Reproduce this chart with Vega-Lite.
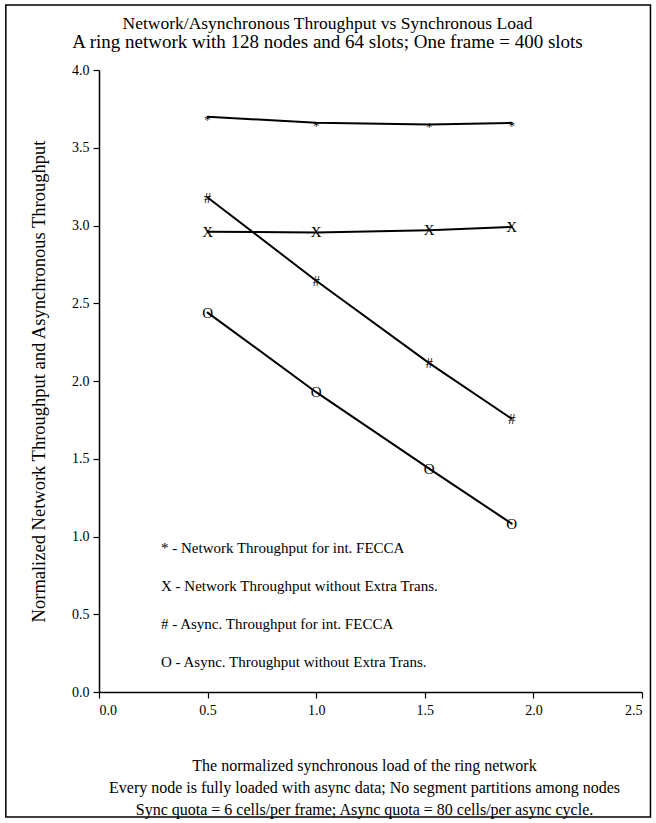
{
  "$schema": "https://vega.github.io/schema/vega-lite/v6.json",
  "width": 543,
  "height": 622,
  "autosize": {"type": "none"},
  "padding": {"left": 99, "top": 70, "right": 14, "bottom": 131},
  "background": "white",
  "config": {
    "view": {"stroke": null},
    "font": "Liberation Serif",
    "axis": {
      "labelFont": "Liberation Serif",
      "titleFont": "Liberation Serif",
      "labelColor": "black",
      "titleColor": "black",
      "domainColor": "black",
      "tickColor": "black",
      "labelFontSize": 14,
      "titleFontSize": 16,
      "titleFontWeight": "normal",
      "grid": false,
      "domainWidth": 1.5,
      "tickWidth": 1.2,
      "tickSize": 6
    }
  },
  "title": {
    "text": "Network/Asynchronous Throughput vs Synchronous Load",
    "subtitle": "A ring network with 128 nodes and 64 slots; One frame = 400 slots",
    "font": "Liberation Serif",
    "subtitleFont": "Liberation Serif",
    "fontSize": 17.5,
    "subtitleFontSize": 19,
    "fontWeight": "normal",
    "color": "black",
    "subtitleColor": "black",
    "anchor": "middle",
    "dx": -43,
    "offset": -48,
    "subtitlePadding": 1
  },
  "datasets": {
    "series": [
      {"load": 0.5, "value": 3.70, "series": "* - Network Throughput for int. FECCA", "sym": "*"},
      {"load": 1.0, "value": 3.66, "series": "* - Network Throughput for int. FECCA", "sym": "*"},
      {"load": 1.52, "value": 3.65, "series": "* - Network Throughput for int. FECCA", "sym": "*"},
      {"load": 1.9, "value": 3.66, "series": "* - Network Throughput for int. FECCA", "sym": "*"},
      {"load": 0.5, "value": 2.96, "series": "X - Network Throughput without Extra Trans.", "sym": "X"},
      {"load": 1.0, "value": 2.955, "series": "X - Network Throughput without Extra Trans.", "sym": "X"},
      {"load": 1.52, "value": 2.97, "series": "X - Network Throughput without Extra Trans.", "sym": "X"},
      {"load": 1.9, "value": 2.99, "series": "X - Network Throughput without Extra Trans.", "sym": "X"},
      {"load": 0.5, "value": 3.18, "series": "# - Async. Throughput for int. FECCA", "sym": "#"},
      {"load": 1.0, "value": 2.645, "series": "# - Async. Throughput for int. FECCA", "sym": "#"},
      {"load": 1.52, "value": 2.115, "series": "# - Async. Throughput for int. FECCA", "sym": "#"},
      {"load": 1.9, "value": 1.757, "series": "# - Async. Throughput for int. FECCA", "sym": "#"},
      {"load": 0.5, "value": 2.44, "series": "O - Async. Throughput without Extra Trans.", "sym": "O"},
      {"load": 1.0, "value": 1.928, "series": "O - Async. Throughput without Extra Trans.", "sym": "O"},
      {"load": 1.52, "value": 1.436, "series": "O - Async. Throughput without Extra Trans.", "sym": "O"},
      {"load": 1.9, "value": 1.083, "series": "O - Async. Throughput without Extra Trans.", "sym": "O"}
    ]
  },
  "layer": [
    {
      "data": {"values": [{}]},
      "mark": {"type": "rect", "filled": false, "stroke": "black", "strokeWidth": 1.5, "clip": false},
      "encoding": {
        "x": {"datum": -0.429, "type": "quantitative", "scale": {"domain": [0, 2.5], "nice": false, "zero": false}},
        "x2": {"datum": 2.539},
        "y": {"datum": 4.418, "type": "quantitative", "scale": {"domain": [0, 4], "nice": false, "zero": false}},
        "y2": {"datum": -0.804}
      }
    },
    {
      "data": {"name": "series"},
      "mark": {"type": "line", "strokeCap": "round"},
      "encoding": {
        "x": {
          "field": "load", "type": "quantitative",
          "scale": {"domain": [0, 2.5], "nice": false, "zero": false},
          "axis": {
            "values": [0, 0.5, 1, 1.5, 2, 2.5],
            "format": ".1f",
            "labelPadding": 5,
            "title": ["The normalized synchronous load of the ring network", "Every node is fully loaded with async data; No segment partitions among nodes", "Sync quota = 6 cells/per frame; Async quota = 80 cells/per async cycle."],
            "titleLineHeight": 22,
            "titlePadding": 40,
            "titleX": 265
          }
        },
        "y": {
          "field": "value", "type": "quantitative",
          "scale": {"domain": [0, 4], "nice": false, "zero": false},
          "axis": {
            "values": [0, 0.5, 1, 1.5, 2, 2.5, 3, 3.5, 4],
            "format": ".1f",
            "labelPadding": 4,
            "title": "Normalized Network Throughput and Asynchronous Throughput",
            "titleFontSize": 18.5,
            "titlePadding": 23
          }
        },
        "color": {
          "field": "series", "type": "nominal",
          "scale": {
            "domain": ["* - Network Throughput for int. FECCA", "X - Network Throughput without Extra Trans.", "# - Async. Throughput for int. FECCA", "O - Async. Throughput without Extra Trans."],
            "range": ["black", "black", "black", "black"]
          },
          "legend": {
            "orient": "none",
            "legendX": 47,
            "legendY": 470,
            "title": null,
            "symbolSize": 0,
            "symbolStrokeWidth": 0,
            "symbolOpacity": 0,
            "labelOffset": 0,
            "labelFont": "Liberation Serif",
            "labelFontSize": 15,
            "labelColor": "black",
            "labelLimit": 400,
            "rowPadding": 22
          }
        },
        "strokeWidth": {
          "field": "series", "type": "nominal",
          "scale": {
            "domain": ["* - Network Throughput for int. FECCA", "X - Network Throughput without Extra Trans.", "# - Async. Throughput for int. FECCA", "O - Async. Throughput without Extra Trans."],
            "range": [2, 2, 1.1, 1.1]
          },
          "legend": null
        }
      }
    },
    {
      "data": {"name": "series"},
      "transform": [{"filter": "datum.sym !== '*'"}],
      "mark": {"type": "text", "font": "Liberation Serif", "fontSize": 15, "color": "black", "baseline": "middle", "align": "center"},
      "encoding": {
        "x": {"field": "load", "type": "quantitative"},
        "y": {"field": "value", "type": "quantitative"},
        "text": {"field": "sym"}
      }
    },
    {
      "data": {"name": "series"},
      "transform": [{"filter": "datum.sym === '*'"}],
      "mark": {"type": "text", "font": "Liberation Serif", "fontSize": 13, "color": "black", "baseline": "middle", "align": "center", "dy": 3},
      "encoding": {
        "x": {"field": "load", "type": "quantitative"},
        "y": {"field": "value", "type": "quantitative"},
        "text": {"field": "sym"}
      }
    }
  ]
}
